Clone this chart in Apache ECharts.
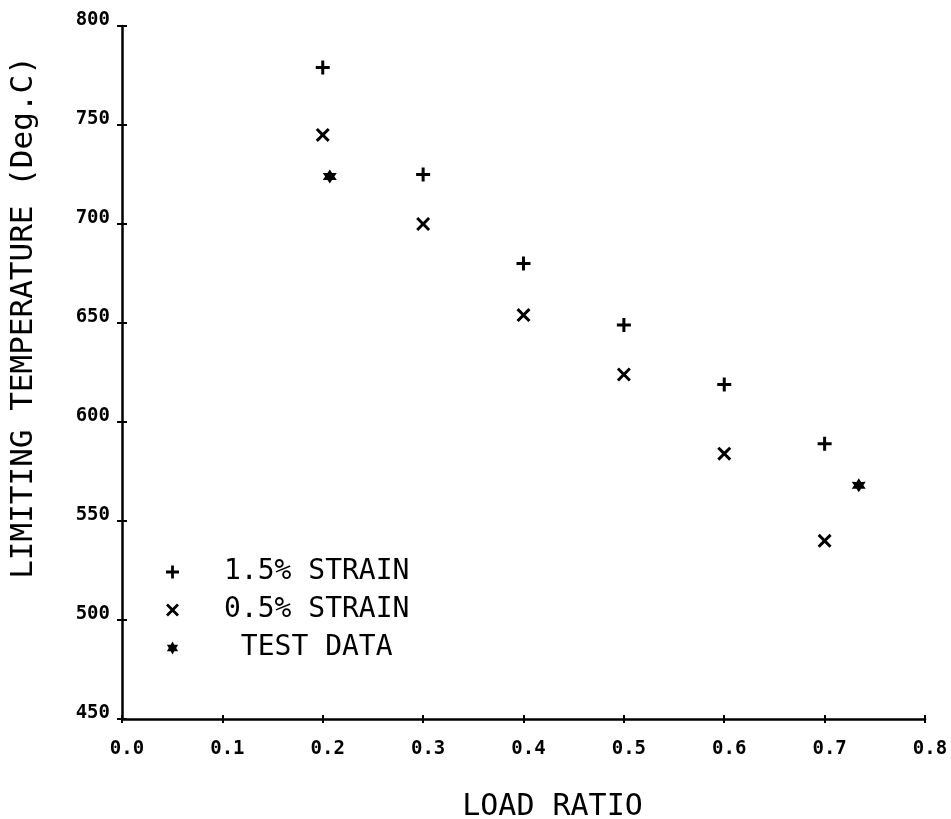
<!DOCTYPE html>
<html>
<head>
<meta charset="utf-8">
<script src="https://cdn.jsdelivr.net/npm/echarts@6/dist/echarts.min.js"></script>
<style>
  html, body { margin: 0; padding: 0; background: #fff; }
  #chart { width: 951px; height: 819px; }
</style>
</head>
<body>
<div id="chart"></div>
<script>
// ---- data ----
const loadRatio = [0.2, 0.3, 0.4, 0.5, 0.6, 0.7];
const strain15 = [779, 725, 680, 649, 619, 589];
const strain05 = [745, 700, 654, 624, 584, 540];
const testLoad = [0.207, 0.734];
const testTemp = [724, 568];
const xTickLabels = ['0.0', '0.1', '0.2', '0.3', '0.4', '0.5', '0.6', '0.7', '0.8'];
const yTickLabels = ['450', '500', '550', '600', '650', '700', '750', '800'];
const seriesNames = ['1.5% STRAIN', '0.5% STRAIN', 'TEST DATA'];
const xTitle = 'LOAD RATIO';
const yTitle = 'LIMITING TEMPERATURE (Deg.C)';

// ---- marker shapes ----
const PLUS = 'path://M5.5,0H8.5V5.5H14V8.5H8.5V14H5.5V8.5H0V5.5H5.5Z';
const CROSS = 'path://M0,2.1L2.1,0L7,4.9L11.9,0L14,2.1L9.1,7L14,11.9L11.9,14L7,9.1L2.1,14L0,11.9L4.9,7Z';
const STAR = 'path://M7,0L9,3.54L13.06,3.5L11,7L13.06,10.5L9,10.46L7,14L5,10.46L0.94,10.5L3,7L0.94,3.5L5,3.54Z';

const pairs = (xs, ys) => xs.map((x, i) => [x, ys[i]]);

const xMin = parseFloat(xTickLabels[0]);
const xMax = parseFloat(xTickLabels[xTickLabels.length - 1]);
const xStep = parseFloat(xTickLabels[1]) - xMin;
const yMin = parseFloat(yTickLabels[0]);
const yMax = parseFloat(yTickLabels[yTickLabels.length - 1]);
const yStep = parseFloat(yTickLabels[1]) - yMin;

const MONO = '"DejaVu Sans Mono", "Liberation Mono", monospace';
const INK = '#000';

const baseX = {
  type: 'value', min: xMin, max: xMax, interval: xStep,
  splitLine: { show: false }
};
const baseY = {
  type: 'value', min: yMin, max: yMax, interval: yStep,
  splitLine: { show: false }
};

const chart = echarts.init(document.getElementById('chart'), null, { renderer: 'canvas' });
chart.setOption({
  backgroundColor: '#fff',
  animation: false,
  grid: { left: 122, right: 26, top: 26, bottom: 100, containLabel: false, outerBoundsMode: 'none' },
  xAxis: [
    Object.assign({}, baseX, {
      position: 'bottom',
      name: xTitle,
      nameLocation: 'middle',
      nameGap: 73,
      nameTextStyle: { fontFamily: MONO, fontSize: 30, color: INK, lineHeight: 30, padding: [0, 0, 0, 58] },
      axisLine: { show: true, onZero: false, lineStyle: { color: INK, width: 2.5 } },
      axisTick: { show: true, inside: false, length: 4, lineStyle: { color: INK, width: 2 } },
      axisLabel: {
        show: true, margin: 21, fontFamily: MONO, fontWeight: 'bold', fontSize: 19, color: INK,
        padding: [0, 0, 0, 10],
        formatter: v => v.toFixed(1)
      }
    }),
    Object.assign({}, baseX, {
      position: 'bottom',
      axisLine: { show: false },
      axisTick: { show: true, inside: true, length: 4, lineStyle: { color: INK, width: 2 } },
      axisLabel: { show: false }
    })
  ],
  yAxis: [
    Object.assign({}, baseY, {
      position: 'left',
      name: yTitle,
      nameLocation: 'middle',
      nameGap: 83,
      nameRotate: 90,
      nameTextStyle: { fontFamily: MONO, fontSize: 31, color: INK, lineHeight: 31, padding: [0, 0, 0, 110] },
      axisLine: { show: true, onZero: false, lineStyle: { color: INK, width: 2.5 } },
      axisTick: { show: true, inside: false, length: 5, lineStyle: { color: INK, width: 2 } },
      axisLabel: {
        show: true, margin: 12, fontFamily: MONO, fontWeight: 'bold', fontSize: 19, color: INK,
        verticalAlign: 'bottom', lineHeight: 12
      }
    }),
    Object.assign({}, baseY, {
      position: 'left',
      axisLine: { show: false },
      axisTick: { show: true, inside: true, length: 5, lineStyle: { color: INK, width: 2 } },
      axisLabel: { show: false }
    })
  ],
  legend: {
    orient: 'vertical',
    left: 161,
    top: 553,
    itemWidth: 13,
    itemHeight: 13,
    itemGap: 10,
    selectedMode: false,
    formatter: n => (n === seriesNames[2] ? ' ' + n : n),
    textStyle: { fontFamily: MONO, fontSize: 28, color: INK, lineHeight: 28, padding: [0, 0, 0, 40] },
    data: [
      { name: seriesNames[0], icon: PLUS },
      { name: seriesNames[1], icon: CROSS },
      { name: seriesNames[2], icon: STAR }
    ]
  },
  series: [
    {
      name: seriesNames[0], type: 'scatter', symbol: PLUS, symbolSize: 14,
      itemStyle: { color: INK, opacity: 1 },
      data: pairs(loadRatio, strain15)
    },
    {
      name: seriesNames[1], type: 'scatter', symbol: CROSS, symbolSize: 14,
      itemStyle: { color: INK, opacity: 1 },
      data: pairs(loadRatio, strain05)
    },
    {
      name: seriesNames[2], type: 'scatter', symbol: STAR, symbolSize: 14,
      itemStyle: { color: INK, opacity: 1 },
      data: pairs(testLoad, testTemp)
    }
  ]
});
</script>
</body>
</html>
